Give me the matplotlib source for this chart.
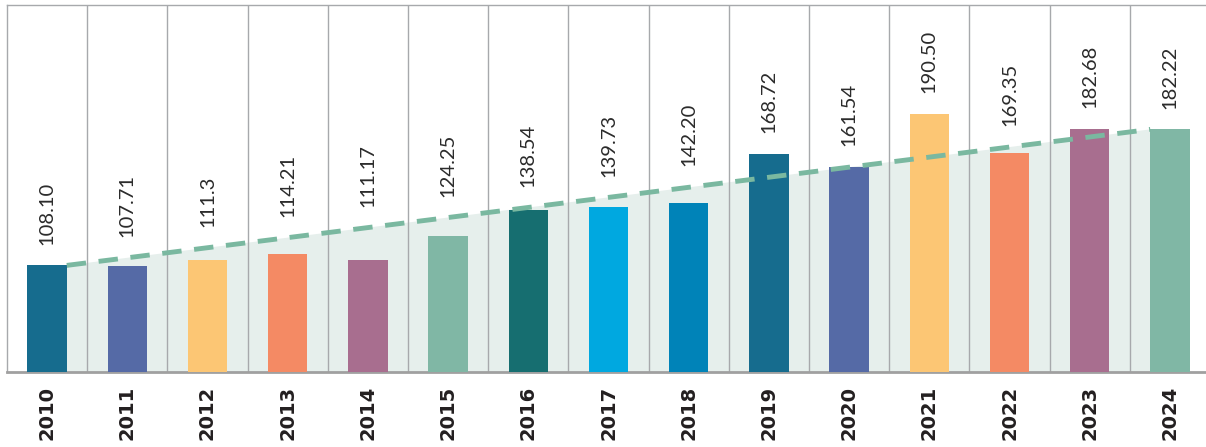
import numpy as np
import matplotlib
matplotlib.use('Agg')
import matplotlib.pyplot as plt

years = ['2010', '2011', '2012', '2013', '2014', '2015', '2016', '2017',
         '2018', '2019', '2020', '2021', '2022', '2023', '2024']
values = [108.10, 107.71, 111.3, 114.21, 111.17, 124.25, 138.54, 139.73,
          142.20, 168.72, 161.54, 190.50, 169.35, 182.68, 182.22]
labels = ['108.10', '107.71', '111.3', '114.21', '111.17', '124.25', '138.54', '139.73',
          '142.20', '168.72', '161.54', '190.50', '169.35', '182.68', '182.22']
colors = ['#166c8e', '#556aa6', '#fcc674', '#f48a64', '#a86e8f', '#80b7a5', '#166e70', '#00a8e0',
          '#0083b8', '#166c8e', '#556aa6', '#fcc674', '#f48a64', '#a86e8f', '#80b7a5']

W, H = 1206, 447
fig = plt.figure(figsize=(W / 100, H / 100), dpi=100)
ax = fig.add_axes([7 / W, 75 / H, 1203 / W, 367 / H])

x = np.arange(len(years))
bw = 0.49
ax.set_xlim(-0.5, len(years) - 0.5)
ax.set_ylim(50, 250)

# trend from the first bar's top right corner to the last bar's top left corner
x0, x1 = x[0] + bw / 2, x[-1] - bw / 2
y0, y1 = values[0], values[-1]
ax.fill([x0, x0, x1, x1], [50, y0, y1, 50], color='#e6efec', lw=0, zorder=1)

for b in np.arange(0.5, len(years) - 0.5, 1):
    ax.axvline(b, color='#a7a9ac', lw=1, zorder=2)

ax.bar(x, values, width=bw, color=colors, zorder=3)
ax.plot([x0, x1], [y0, y1], color='#7ab8a0', lw=3.5, dashes=(4, 2.6), zorder=4)

for i, v in enumerate(values):
    trend = y0 + (y1 - y0) * (x[i] - x0) / (x1 - x0)
    base = max(v, min(max(trend, y0), y1))
    ax.annotate(labels[i], (x[i], base), xytext=(0, 15), textcoords='offset points',
                rotation=90, ha='center', va='bottom', fontsize=14.5,
                color='#2b2b2b', family='Lato')

ax.set_xticks(x)
ax.set_xticklabels(years, rotation=90, fontsize=14, fontweight='bold', color='#231f20')
ax.tick_params(axis='x', length=0, pad=10)
ax.set_yticks([])

for s in ['left', 'top']:
    ax.spines[s].set_color('#a7a9ac')
    ax.spines[s].set_linewidth(1)
ax.spines['right'].set_visible(False)
ax.spines['bottom'].set_color('#a0a0a0')
ax.spines['bottom'].set_linewidth(2)

fig.savefig('out.png', dpi=100)
